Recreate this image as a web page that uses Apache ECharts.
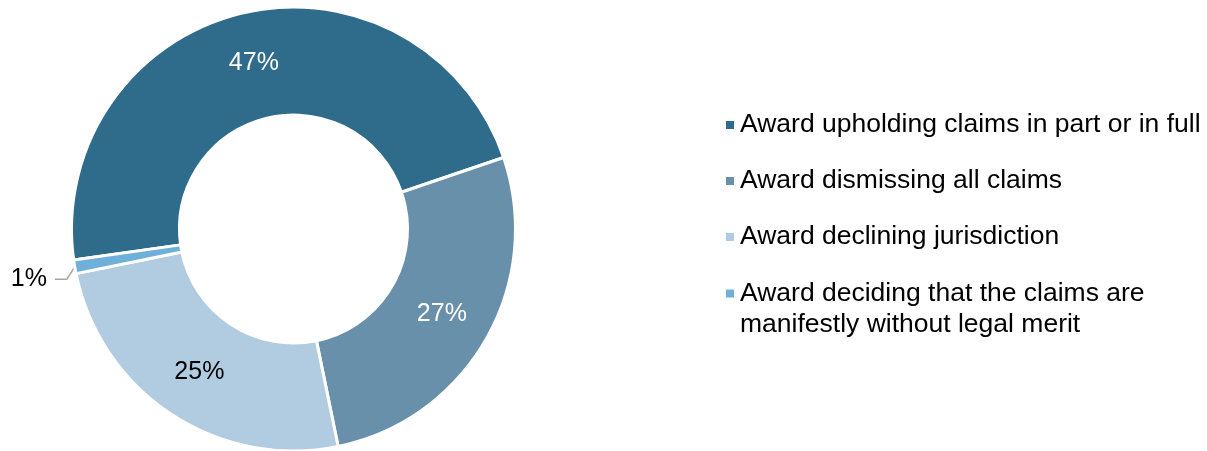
<!DOCTYPE html>
<html>
<head>
<meta charset="utf-8">
<script src="https://cdn.jsdelivr.net/npm/echarts@6/dist/echarts.min.js"></script>
<style>
  html, body { margin: 0; padding: 0; background: #ffffff; }
  #chart { width: 1207px; height: 451px; }
</style>
</head>
<body>
<div id="chart"></div>
<script>
const categories = [
  "Award upholding claims in part or in full",
  "Award dismissing all claims",
  "Award declining jurisdiction",
  "Award deciding that the claims are manifestly without legal merit",
];
const shares = [47, 27, 25, 1];
// leading empty line keeps the icon level with the first text line
const legendLabels = [
  "Award upholding claims in part or in full",
  "Award dismissing all claims",
  "Award declining jurisdiction",
  "\nAward deciding that the claims are\nmanifestly without legal merit",
];

const colors = ["#2f6b8b", "#6990ab", "#b1cbe0", "#6fb0da"];
const labelColors = ["#ffffff", "#ffffff", "#000000", "#000000"];
const font = "'Liberation Sans', Arial, sans-serif";

const chart = echarts.init(document.getElementById("chart"), null, { renderer: "canvas" });

const legendTops = [104.5, 160.5, 216.5, 242];

const legends = categories.map((name, i) => ({
  orient: "vertical",
  left: 719,
  top: legendTops[i],
  selectedMode: false,
  icon: "rect",
  itemWidth: 10,
  itemHeight: 10,
  itemGap: 0,
  data: [name],
  formatter: () => legendLabels[i],
  textStyle: {
    fontFamily: font,
    fontSize: 26.5,
    lineHeight: 31,
    color: "#000000",
  },
}));

const pieData = categories.map((name, i) => {
  const item = {
    name: name,
    value: shares[i],
    itemStyle: { color: colors[i] },
    label: { color: labelColors[i] },
  };
  if (i === 3) {
    item.label = {
      position: "outside",
      color: labelColors[i],
      distanceToLabelLine: 8,
    };
    item.labelLine = {
      show: true,
      length: 8,
      length2: 12,
      lineStyle: { color: "#a6a6a6", width: 1.5 },
    };
  }
  return item;
});

// nudge the small outside label down, bending its leader line with it
const shiftDown = 11;
const nudgeLabel = (p) => {
  if (p.dataIndex !== 3 || !p.labelLinePoints) return {};
  return {
    dy: shiftDown,
    labelLinePoints: p.labelLinePoints.map((pt, k) =>
      k === 0 ? pt : [pt[0], pt[1] + shiftDown]
    ),
  };
};

chart.setOption({
  animation: false,
  backgroundColor: "#ffffff",
  legend: legends,
  series: [
    {
      type: "pie",
      center: [293.5, 229],
      radius: [114, 222],
      startAngle: 188,
      clockwise: true,
      avoidLabelOverlap: false,
      itemStyle: {
        borderColor: "#ffffff",
        borderWidth: 3,
      },
      label: {
        show: true,
        position: "inside",
        formatter: (p) => p.value + "%",
        fontFamily: font,
        fontSize: 25,
      },
      labelLine: { show: false },
      labelLayout: nudgeLabel,
      emphasis: { disabled: true },
      data: pieData,
    },
  ],
});
</script>
</body>
</html>
